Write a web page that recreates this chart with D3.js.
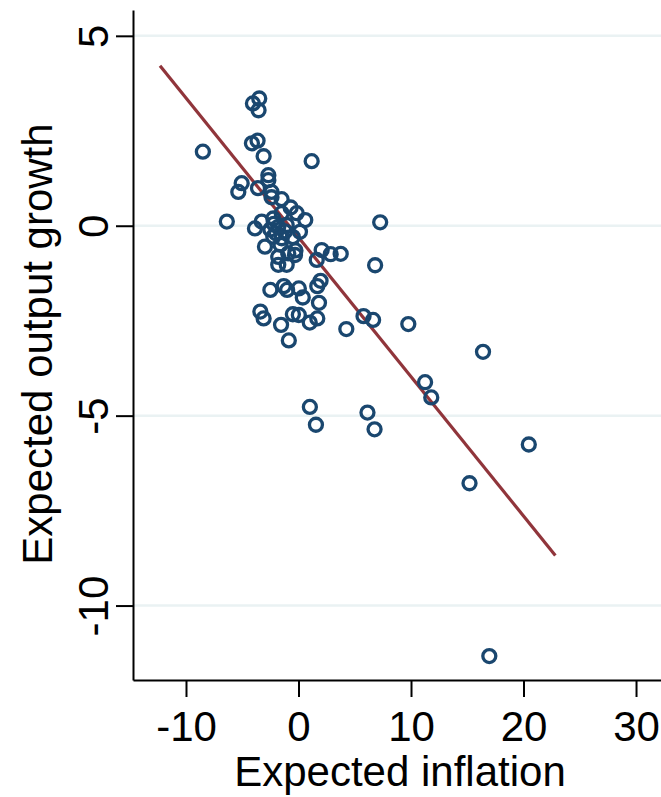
<!DOCTYPE html>
<html lang="en">
<head>
<meta charset="UTF-8">
<title>Expected inflation vs expected output growth</title>
<script src="https://d3js.org/d3.v7.min.js"></script>
<style>
  body { margin: 0; background: #fff; }
  text { font-family: "Liberation Sans", Arial, sans-serif; fill: #000; }
</style>
</head>
<body>
<div id="chart"></div>
<script>
// expected inflation (x) and expected output growth (y)
const inflation = [
  -8.5, -6.37, -5.35, -5.05, -4.05, -3.49, -3.55, -4.14, -3.64, -3.1,
  -3.6, 1.17, 7.26, -3.87, -3.27,
  -2.68, -2.68, -2.4, -2.4, -1.5, -0.7, 0.6, -2.24, -1.49, -0.16,
  -1.05, -1.8, 0.13, -2.5, -2.0, -1.2, -2.24, -1.49, -2.98, -1.8,
  -1.8, -1.05, -0.91, -0.31, -0.27, -2.2, -1.6, -0.5, 2.06, 2.86,
  3.75, 1.62,
  -2.5, -1.31, -1.01, 0.03, 0.38, 1.67, 1.96, 1.82, -3.39, -3.1,
  -1.55, -0.86, -0.5, 0.03, 1.0, 1.67, 4.25, 5.78, 6.63, 9.76, 6.81,
  16.4, 11.25, 11.8, 1.01, 1.55, 6.13, 6.76, 20.47, 15.2, 16.96
];
const outputGrowth = [
  1.95, 0.11, 0.89, 1.12, 3.22, 3.35, 3.04, 2.17, 2.24, 1.83,
  0.99, 1.7, 0.09, -0.07, 0.11,
  1.33, 1.2, 0.89, 0.75, 0.7, 0.48, 0.15, 0.19, 0.33, 0.33,
  0.02, -0.03, -0.16, -0.1, -0.2, -0.15, -0.29, -0.33, -0.55, -0.82,
  -1.03, -1.03, -0.73, -0.77, -0.65, 0.05, -0.5, -0.3, -0.64, -0.75,
  -0.74, -0.9,
  -1.69, -1.59, -1.69, -1.65, -1.89, -1.59, -1.45, -2.03, -2.26, -2.44,
  -2.61, -3.02, -2.33, -2.35, -2.55, -2.44, -2.72, -2.38, -2.48, -2.59, -1.04,
  -3.32, -4.12, -4.52, -4.77, -5.24, -4.92, -5.36, -5.76, -6.78, -11.33
];
// fitted line end points
const fitX = [-12.31, 22.83];
const fitY = [4.21, -8.68];

const xTicks = [-10, 0, 10, 20, 30];
const yTicks = [5, 0, -5, -10];

const W = 661, H = 797;
const svg = d3.select("#chart").append("svg")
  .attr("width", W).attr("height", H);

const x = d3.scaleLinear().domain([-14.71, 32.22]).range([133, 661]);
const y = d3.scaleLinear().domain([-11.96, 5.68]).range([680, 10]);

// plain hyphen for negatives, like the original
const fmt = d => String(d);

// gridlines
svg.append("g").selectAll("line").data(yTicks).join("line")
  .attr("x1", 134).attr("x2", W)
  .attr("y1", d => y(d)).attr("y2", d => y(d))
  .attr("stroke", "#eaf2f3").attr("stroke-width", 2.5);

// x axis
const xAxis = svg.append("g")
  .attr("transform", `translate(0,${y.range()[0]})`)
  .call(d3.axisBottom(x).tickValues(xTicks).tickFormat(fmt)
    .tickSize(17).tickPadding(14).tickSizeOuter(0));
xAxis.select(".domain").attr("stroke", "#000").attr("stroke-width", 2);
xAxis.selectAll(".tick line").attr("stroke", "#000").attr("stroke-width", 2);
xAxis.selectAll(".tick text").attr("font-size", 42).attr("font-family", null);

// y axis
const yAxis = svg.append("g")
  .attr("transform", `translate(${x.range()[0]},0)`)
  .call(d3.axisLeft(y).tickValues(yTicks).tickFormat(fmt)
    .tickSize(17).tickSizeOuter(0));
yAxis.select(".domain").attr("stroke", "#000").attr("stroke-width", 2);
yAxis.selectAll(".tick line").attr("stroke", "#000").attr("stroke-width", 2);
yAxis.selectAll(".tick text")
  .attr("font-size", 42).attr("font-family", null)
  .attr("x", null).attr("dy", null)
  .attr("text-anchor", "middle")
  .attr("transform", "translate(-25,0) rotate(-90)");

// axis titles
svg.append("text")
  .attr("x", 400).attr("y", 786)
  .attr("text-anchor", "middle").attr("font-size", 42)
  .text("Expected inflation");
svg.append("text")
  .attr("transform", "translate(52,344) rotate(-90)")
  .attr("text-anchor", "middle").attr("font-size", 42)
  .text("Expected output growth");

// fitted line
svg.append("line")
  .attr("x1", x(fitX[0])).attr("y1", y(fitY[0]))
  .attr("x2", x(fitX[1])).attr("y2", y(fitY[1]))
  .attr("stroke", "#90353b").attr("stroke-width", 3.2);

// points
svg.append("g").selectAll("circle").data(inflation).join("circle")
  .attr("cx", d => x(d))
  .attr("cy", (d, i) => y(outputGrowth[i]))
  .attr("r", 6.5)
  .attr("fill", "none")
  .attr("stroke", "#1a476f")
  .attr("stroke-width", 3.3);
</script>
</body>
</html>
